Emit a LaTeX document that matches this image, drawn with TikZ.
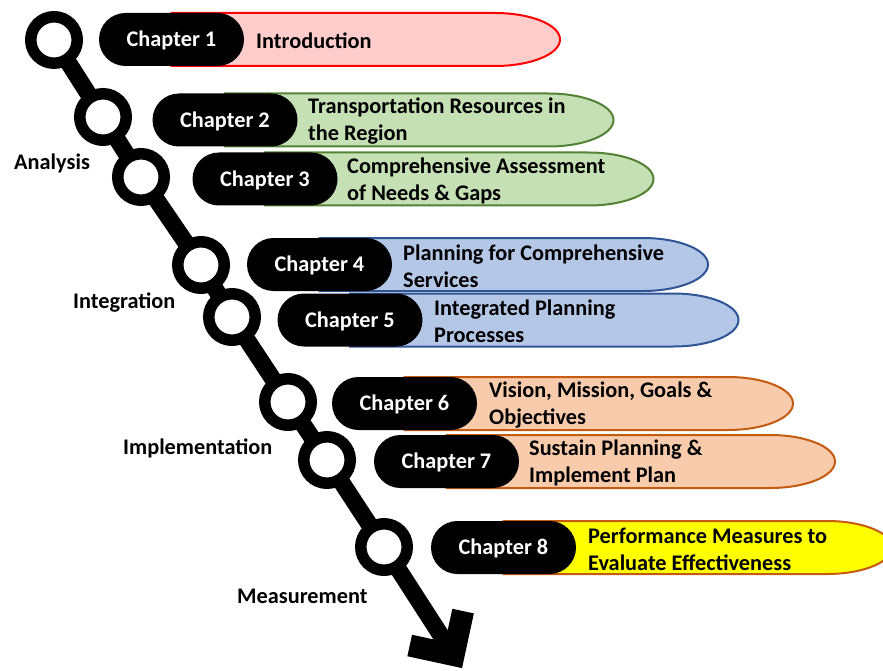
\documentclass[tikz,border=0pt]{standalone}
\usepackage{fontspec}
\setmainfont{Carlito}
\pgfdeclarelayer{bg}
\pgfsetlayers{bg,main}
\definecolor{redB}{HTML}{FF0000}\definecolor{redF}{HTML}{FFCCCC}
\definecolor{grnB}{HTML}{548235}\definecolor{grnF}{HTML}{C5E0B4}
\definecolor{bluB}{HTML}{2F5597}\definecolor{bluF}{HTML}{B4C7E7}
\definecolor{orgB}{HTML}{C55A11}\definecolor{orgF}{HTML}{F8CBAD}
\definecolor{yelF}{HTML}{FFFF00}
\newcommand\chfont{\fontsize{22.3}{27}\selectfont\bfseries}
\newcommand\chbar[4]{%
  \filldraw[fill=#3, draw=#4, line width=2pt] (#1,#2-26.5) -- (#1+388.5-65,#2-26.5)
    arc[start angle=90,end angle=-90,x radius=65pt,y radius=26.5pt] -- (#1,#2+26.5) -- cycle;}
\tikzset{
  pill/.style={fill=black, text=white, rounded corners=26.5pt, minimum width=145pt,
    minimum height=53pt, inner sep=0pt, font=\chfont, text height=14.3pt, text depth=0pt},
  desc/.style={anchor=west, align=left, inner sep=0pt, font=\chfont, text=black, yshift=-1.5pt},
  stage/.style={anchor=base west, inner sep=0pt, font=\chfont, text=black},
  ring/.style={circle, draw=black, line width=11.5pt, fill=white, minimum size=46.5pt, inner sep=0pt},
  rail/.style={line width=17pt, draw=black, line join=round},
  chevron/.style={line width=22pt, draw=black, line join=miter}
}
\begin{document}
\begin{tikzpicture}[x=1pt,y=-1pt]
\useasboundingbox (0,0) rectangle (883,671);
\clip (0,0) rectangle (883,671);
% bars
\chbar{171.5}{39.5}{redF}{redB}
\chbar{225}{120}{grnF}{grnB}
\chbar{265}{179}{grnF}{grnB}
\chbar{319.5}{264.5}{bluF}{bluB}
\chbar{350}{320}{bluF}{bluB}
\chbar{404.5}{403.5}{orgF}{orgB}
\chbar{446.5}{461.5}{orgF}{orgB}
\chbar{503.5}{547.5}{yelF}{orgB}
% pills
\node[pill] (p1) at (171.5,39.5) {Chapter 1};
\node[pill] (p2) at (225,120) {Chapter 2};
\node[pill] (p3) at (265,179) {Chapter 3};
\node[pill] (p4) at (319.5,264.5) {Chapter 4};
\node[pill] (p5) at (350,320) {Chapter 5};
\node[pill] (p6) at (404.5,403.5) {Chapter 6};
\node[pill] (p7) at (446.5,461.5) {Chapter 7};
\node[pill] (p8) at (503.5,547.5) {Chapter 8};
% descriptions
\node[desc] (t1) at (256,39.5) {Introduction};
\node[desc] (t2) at (308,120) {Transportation Resources in\\the Region};
\node[desc] (t3) at (347,179) {Comprehensive Assessment\\of Needs \& Gaps};
\node[desc] (t4) at (403,264.5) {Planning for Comprehensive\\Services};
\node[desc] (t5) at (434,320) {Integrated Planning\\Processes};
\node[desc] (t6) at (489,403.5) {Vision, Mission, Goals \&\\Objectives};
\node[desc] (t7) at (529,461.5) {Sustain Planning \&\\Implement Plan};
\node[desc] (t8) at (588,547.5) {Performance Measures to\\Evaluate Effectiveness};
% stages
\node[stage] (s1) at (14,170) {Analysis};
\node[stage] (s2) at (73,308) {Integration};
\node[stage] (s3) at (123,454) {Implementation};
\node[stage] (s4) at (237,603) {Measurement};
% rings
\node[ring] (c1) at (54,40) {};
\node[ring] (c2) at (103,117) {};
\node[ring] (c3) at (141,177) {};
\node[ring] (c4) at (201,265) {};
\node[ring] (c5) at (232,317) {};
\node[ring] (c6) at (288,402) {};
\node[ring] (c7) at (327,460) {};
\node[ring] (c8) at (384,547) {};
\coordinate (tip) at (453.6,655);
\coordinate (arm1) at (463.1,611.1);
\coordinate (arm2) at (409.7,645.5);
\begin{pgfonlayer}{bg}
\draw[rail] (c1.center) -- (c2.center) -- (c3.center) -- (c4.center) -- (c5.center)
  -- (c6.center) -- (c7.center) -- (c8.center) -- (tip);
\end{pgfonlayer}
\draw[chevron] (arm1) -- (tip) -- (arm2);
\end{tikzpicture}
\end{document}
